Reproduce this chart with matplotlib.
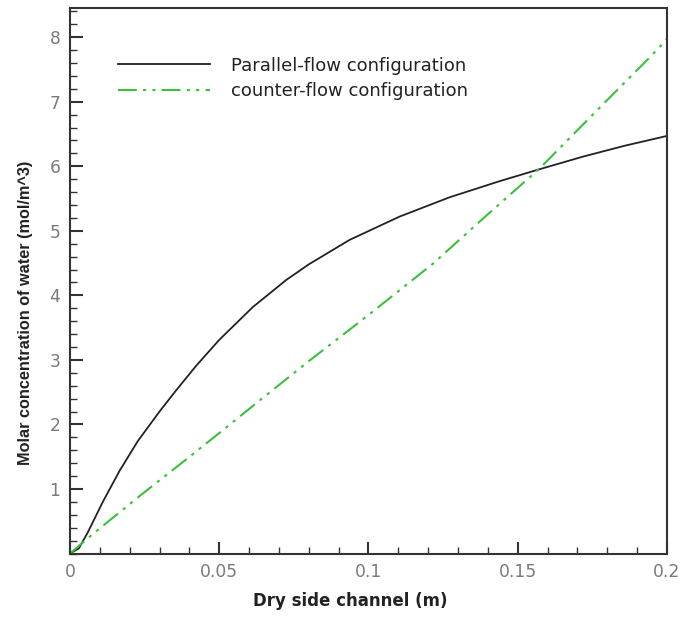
import numpy as np
from matplotlib import pyplot as plt
from matplotlib.ticker import MultipleLocator

plt.rcParams['font.family'] = ['DejaVu Sans']

# values
x_par = [0, 0.003, 0.006, 0.011, 0.0166, 0.0227, 0.030, 0.0356, 0.0423, 0.050,
         0.0613, 0.0725, 0.080, 0.0937, 0.1104, 0.1272, 0.144, 0.157, 0.1719,
         0.186, 0.2]
y_par = [0, 0.08, 0.33, 0.80, 1.28, 1.74, 2.20, 2.53, 2.91, 3.31,
         3.82, 4.24, 4.48, 4.86, 5.22, 5.52, 5.77, 5.95, 6.15,
         6.32, 6.47]

x_cnt = [0, 0.0076, 0.0244, 0.039, 0.0512, 0.0635, 0.080, 0.0993, 0.1216,
         0.1384, 0.155, 0.1585, 0.1775, 0.1943, 0.2]
y_cnt = [0, 0.30, 0.93, 1.46, 1.91, 2.37, 2.98, 3.67, 4.49,
         5.19, 5.87, 6.02, 6.91, 7.69, 7.97]

xticks = [0, 0.05, 0.1, 0.15, 0.2]
xtick_labels = ['0', '0.05', '0.1', '0.15', '0.2']
yticks = [1, 2, 3, 4, 5, 6, 7, 8]

fig = plt.figure(figsize=(6.84, 6.17), dpi=100)
ax = fig.add_axes([0.1023, 0.1029, 0.8727, 0.8849])

ax.plot(x_par, y_par, color='#222222', lw=1.3, label='Parallel-flow configuration')
ax.plot(x_cnt, y_cnt, color='#3cbf3c', lw=1.5, dashes=(9, 3, 1.5, 3, 1.5, 3),
        label='counter-flow configuration')

ax.set_xlim(0, 0.2)
ax.set_ylim(0, 8.46)
ax.set_xticks(xticks)
ax.set_xticklabels(xtick_labels)
ax.set_yticks(yticks)
ax.xaxis.set_minor_locator(MultipleLocator(0.01))
ax.yaxis.set_minor_locator(MultipleLocator(0.2))
ax.tick_params(which='both', direction='in', top=False, right=False,
               colors='#333333', labelcolor='#7a7a7a', labelsize=12.3)
ax.tick_params(which='major', length=9, width=1.5, pad=7)
ax.tick_params(which='minor', length=5, width=1)
for s in ax.spines.values():
    s.set_linewidth(1.5)
    s.set_color('#333333')

ax.set_xlabel('Dry side channel (m)', fontsize=12, fontweight='bold',
              color='#222222')
ax.xaxis.set_label_coords(0.469, -0.07)
ax.set_ylabel('Molar concentration of water (mol/m^3)', fontsize=11.7,
              fontweight='bold', color='#222222', family='Liberation Sans')
ax.yaxis.set_label_coords(-0.062, 0.44)

ax.legend(loc='upper left', bbox_to_anchor=(0.08, 0.91), frameon=False,
          fontsize=13, handlelength=5.1, handletextpad=1.2, borderpad=0,
          borderaxespad=0, labelspacing=0.4, labelcolor='#222222')

plt.savefig('out.png')
